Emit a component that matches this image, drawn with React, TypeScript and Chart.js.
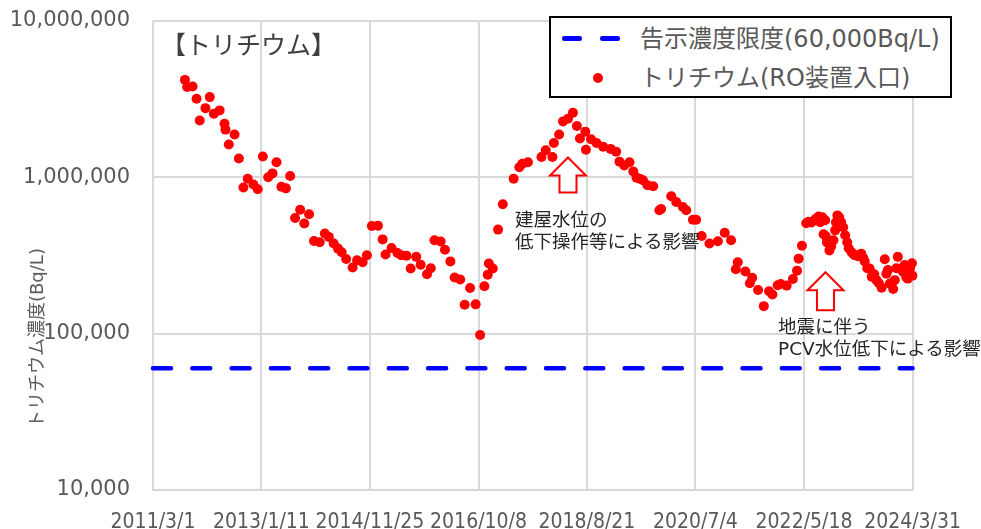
import React, { useEffect, useRef } from "react";
import { Chart, registerables } from "chart.js";

Chart.register(...registerables);

// ---- data ----
const xTickLabels = [
  "2011/3/1", "2013/1/11", "2014/11/25", "2016/10/8",
  "2018/8/21", "2020/7/4", "2022/5/18", "2024/3/31",
];
const yTickValues = [10000, 100000, 1000000, 10000000];

const limitValue = 60000;
const limitLabel = "告示濃度限度(60,000Bq/L)";
const seriesLabel = "トリチウム(RO装置入口)";
const chartTitle = "【トリチウム】";
const yAxisTitle = "トリチウム濃度(Bq/L)";

const sampleDates = [
  "2011/9/18", "2011/10/2", "2011/11/5", "2011/11/30", "2011/12/20", "2012/1/25", "2012/2/21", "2012/3/18",
  "2012/4/23", "2012/5/24", "2012/5/30", "2012/6/20", "2012/7/26", "2012/8/22", "2012/9/20", "2012/10/17",
  "2012/11/22", "2012/12/19", "2013/1/20", "2013/2/23", "2013/3/22", "2013/4/16", "2013/5/17", "2013/6/14",
  "2013/7/11", "2013/8/11", "2013/9/12", "2013/10/8", "2013/11/7", "2013/12/8", "2014/1/13", "2014/2/14",
  "2014/3/11", "2014/4/11", "2014/5/8", "2014/5/31", "2014/6/28", "2014/8/8", "2014/9/5", "2014/10/10",
  "2014/11/6", "2014/12/7", "2015/1/14", "2015/2/13", "2015/3/3", "2015/4/10", "2015/5/17", "2015/6/10",
  "2015/7/13", "2015/8/8", "2015/9/12", "2015/10/10", "2015/11/19", "2015/12/13", "2016/1/5", "2016/2/13",
  "2016/3/11", "2016/4/14", "2016/5/11", "2016/6/15", "2016/7/13", "2016/8/16", "2016/9/20", "2016/10/18",
  "2016/11/14", "2016/12/5", "2016/12/12", "2017/1/6", "2017/2/8", "2017/3/10", "2017/5/17", "2017/6/22",
  "2017/7/11", "2017/8/15", "2017/11/8", "2017/12/5", "2018/1/16", "2018/1/25", "2018/2/27", "2018/3/24",
  "2018/4/24", "2018/5/25", "2018/6/19", "2018/7/8", "2018/8/11", "2018/8/15", "2018/9/16", "2018/10/21",
  "2018/12/1", "2019/1/17", "2019/2/21", "2019/3/14", "2019/4/13", "2019/5/16", "2019/6/9", "2019/6/29",
  "2019/7/19", "2019/8/9", "2019/9/6", "2019/10/12", "2019/11/20", "2019/12/1", "2020/2/3", "2020/3/5",
  "2020/4/16", "2020/5/7", "2020/6/18", "2020/7/8", "2020/8/12", "2020/9/30", "2020/11/22", "2021/1/4",
  "2021/2/13", "2021/3/15", "2021/3/27", "2021/5/14", "2021/6/11", "2021/6/26", "2021/8/2", "2021/9/7",
  "2021/10/10", "2021/10/31", "2021/12/3", "2021/12/22", "2022/1/29", "2022/3/9", "2022/4/4", "2022/4/14",
  "2022/5/5", "2022/6/1", "2022/6/15", "2022/7/4", "2022/7/27", "2022/8/17", "2022/8/28", "2022/9/10",
  "2022/9/18", "2022/9/28", "2022/10/2", "2022/10/9", "2022/10/17", "2022/10/25", "2022/11/5", "2022/11/19",
  "2022/11/30", "2022/12/5", "2022/12/14", "2022/12/25", "2023/1/7", "2023/1/19", "2023/2/1", "2023/2/14",
  "2023/2/23", "2023/3/13", "2023/3/25", "2023/4/3", "2023/4/22", "2023/5/13", "2023/5/26", "2023/6/4",
  "2023/6/20", "2023/7/5", "2023/7/18", "2023/8/3", "2023/8/17", "2023/9/1", "2023/9/18", "2023/10/8",
  "2023/10/18", "2023/10/28", "2023/11/9", "2023/11/30", "2023/12/10", "2023/12/20", "2023/12/29", "2024/1/21",
  "2024/1/31", "2024/2/10", "2024/2/21", "2024/3/1", "2024/3/15", "2024/3/27", "2024/3/30",
];

const tritiumRO = [
  4200000, 3780000, 3810000, 3180000, 2310000, 2770000, 3260000, 2550000,
  2680000, 2200000, 2020000, 1620000, 1880000, 1320000, 860000, 980000,
  900000, 840000, 1360000, 1000000, 1060000, 1250000, 870000, 850000,
  1020000, 550000, 620000, 506000, 580000, 392000, 384000, 437000,
  416000, 377000, 350000, 332000, 300000, 265000, 295000, 286000,
  317000, 488000, 491000, 401000, 321000, 353000, 328000, 317000,
  315000, 261000, 310000, 276000, 240000, 262000, 396000, 389000,
  344000, 290000, 229000, 222000, 153000, 196000, 154000, 98000,
  201000, 238000, 281000, 261000, 463000, 672000, 981000, 1160000,
  1220000, 1250000, 1350000, 1490000, 1350000, 1660000, 1880000, 2280000,
  2370000, 2590000, 2130000, 1770000, 1960000, 1500000, 1750000, 1660000,
  1570000, 1520000, 1460000, 1260000, 1190000, 1250000, 1090000, 996000,
  981000, 957000, 889000, 876000, 616000, 628000, 756000, 695000,
  646000, 616000, 535000, 536000, 421000, 377000, 390000, 442000,
  396000, 258000, 286000, 250000, 210000, 228000, 190000, 150000,
  187000, 178000, 204000, 208000, 203000, 224000, 253000, 302000,
  365000, 508000, 520000, 514000, 539000, 561000, 516000, 555000,
  432000, 531000, 420000, 384000, 379000, 341000, 362000, 396000,
  458000, 516000, 571000, 555000, 516000, 479000, 426000, 384000,
  352000, 332000, 322000, 317000, 313000, 325000, 305000, 290000,
  262000, 261000, 231000, 240000, 220000, 210000, 197000, 299000,
  242000, 255000, 209000, 193000, 220000, 262000, 310000, 261000,
  249000, 275000, 229000, 225000, 262000, 282000, 235000,
];

// annotation arrows anchored in data space (date, tip value, tail value)
const arrowDates = ["2018/4/24", "2022/9/30"];
const arrowTipValues = [1340000, 247000];
const arrowTailValues = [800000, 141000];

function toTime(s: string): number {
  const [y, m, d] = s.split("/").map(Number);
  return Date.UTC(y, m - 1, d);
}

const GRID = "#D9D9D9";
const TEXT = "#595959";
const LATIN_CJK = '"DejaVu Sans", "Noto Sans CJK JP", sans-serif';

const arrowPlugin = {
  id: "arrowAnnotations",
  afterDatasetsDraw(chart: any) {
    const { ctx, scales } = chart;
    const xs = scales.x;
    const ys = scales.y;
    ctx.save();
    arrowDates.forEach((d, i) => {
      const x = xs.getPixelForValue(toTime(d));
      const yt = ys.getPixelForValue(arrowTipValues[i]);
      const yb = ys.getPixelForValue(arrowTailValues[i]);
      const hw = 18, hh = 18, sw = 8.5;
      ctx.beginPath();
      ctx.moveTo(x, yt);
      ctx.lineTo(x + hw, yt + hh);
      ctx.lineTo(x + sw, yt + hh);
      ctx.lineTo(x + sw, yb);
      ctx.lineTo(x - sw, yb);
      ctx.lineTo(x - sw, yt + hh);
      ctx.lineTo(x - hw, yt + hh);
      ctx.closePath();
      ctx.fillStyle = "#FFFFFF";
      ctx.fill();
      ctx.lineWidth = 2;
      ctx.strokeStyle = "#FF0000";
      ctx.lineJoin = "miter";
      ctx.stroke();
    });
    ctx.restore();
  },
};

export default function App() {
  const canvasRef = useRef<HTMLCanvasElement | null>(null);

  useEffect(() => {
    document.body.style.margin = "0";
    const canvas = canvasRef.current;
    if (!canvas) return;
    const xMin = toTime(xTickLabels[0]);
    const xMax = toTime(xTickLabels[xTickLabels.length - 1]);
    const chart = new Chart(canvas, {
      type: "scatter",
      data: {
        datasets: [
          {
            type: "line",
            label: limitLabel,
            data: [
              { x: xMin, y: limitValue },
              { x: xMax, y: limitValue },
            ],
            borderColor: "#0000FF",
            backgroundColor: "#0000FF",
            borderWidth: 4.5,
            borderDash: [18, 21.3],
            borderCapStyle: "round",
            pointRadius: 0,
            fill: false,
            clip: false,
            order: 2,
          } as any,
          {
            label: seriesLabel,
            data: sampleDates.map((d, i) => ({ x: toTime(d), y: tritiumRO[i] })),
            backgroundColor: "#FF0000",
            borderColor: "#FF0000",
            borderWidth: 0,
            pointRadius: 5,
            pointHoverRadius: 5,
            clip: false,
            order: 1,
          } as any,
        ],
      },
      options: {
        animation: false,
        responsive: false,
        events: [],
        layout: { padding: { left: 0, right: 63, top: 21, bottom: 0 } },
        plugins: { legend: { display: false }, tooltip: { enabled: false } },
        scales: {
          x: {
            type: "linear",
            min: xMin,
            max: xMax,
            afterBuildTicks: (s: any) => {
              s.ticks = xTickLabels.map((l) => ({ value: toTime(l) }));
            },
            afterFit: (s: any) => {
              s.height = 39;
            },
            ticks: {
              autoSkip: false,
              maxRotation: 0,
              padding: 20,
              color: TEXT,
              font: { family: '"DejaVu Sans Condensed", "DejaVu Sans", sans-serif', size: 21 },
              callback: (_v: any, i: number) => xTickLabels[i],
            },
            grid: { color: GRID, lineWidth: 2, drawTicks: false },
            border: { color: GRID, width: 2 },
          },
          y: {
            type: "logarithmic",
            min: 10000,
            max: 10000000,
            afterBuildTicks: (s: any) => {
              s.ticks = yTickValues.map((v) => ({ value: v }));
            },
            afterFit: (s: any) => {
              s.width = 153;
              s.paddingTop = 0;
              s.paddingBottom = 0;
            },
            ticks: {
              padding: 23,
              color: TEXT,
              font: { family: '"DejaVu Sans", sans-serif', size: 21 },
              callback: (v: any) => Number(v).toLocaleString("en-US"),
            },
            grid: { color: GRID, lineWidth: 2, drawTicks: false },
            border: { color: GRID, width: 2 },
          },
        },
      } as any,
      plugins: [arrowPlugin],
    });
    return () => chart.destroy();
  }, []);

  const abs = (style: React.CSSProperties): React.CSSProperties => ({ position: "absolute", ...style });
  const line = (top: number): React.CSSProperties => ({
    position: "absolute",
    top,
    transform: "translateY(-50%)",
    whiteSpace: "nowrap",
    lineHeight: 1,
  });

  return (
    <div style={{ position: "fixed", left: 0, top: 0, width: 981, height: 529, background: "#fff", overflow: "hidden" }}>
      <canvas ref={canvasRef} width={981} height={529} style={{ display: "block", width: 981, height: 529 }} />

      {/* title */}
      <div style={{ ...line(45), left: 161, fontSize: 25, color: "#404040", fontFamily: LATIN_CJK }}>{chartTitle}</div>

      {/* y axis title */}
      <div
        style={abs({
          left: 37,
          top: 338,
          transform: "translate(-50%, -50%) rotate(-90deg)",
          whiteSpace: "nowrap",
          fontSize: 18,
          lineHeight: 1,
          color: TEXT,
          fontFamily: LATIN_CJK,
        })}
      >
        {yAxisTitle}
      </div>

      {/* legend */}
      <div style={abs({ left: 549, top: 16, width: 403, height: 82, border: "2px solid #000", background: "#fff", boxSizing: "border-box" })} />
      <div style={abs({ left: 562, top: 36, width: 20, height: 4.5, borderRadius: 2.25, background: "#0000FF" })} />
      <div style={abs({ left: 600, top: 36, width: 20, height: 4.5, borderRadius: 2.25, background: "#0000FF" })} />
      <div style={{ ...line(39), left: 640, fontSize: 24, color: TEXT, fontFamily: LATIN_CJK }}>{limitLabel}</div>
      <div style={abs({ left: 593, top: 73, width: 10, height: 10, borderRadius: 5, background: "#FF0000" })} />
      <div style={{ ...line(78), left: 640, fontSize: 24, color: TEXT, fontFamily: LATIN_CJK }}>{seriesLabel}</div>

      {/* annotations */}
      <div style={{ ...line(220), left: 515, fontSize: 18.5, color: "#262626", fontFamily: LATIN_CJK }}>建屋水位の</div>
      <div style={{ ...line(242), left: 515, fontSize: 18.5, color: "#262626", fontFamily: LATIN_CJK }}>低下操作等による影響</div>
      <div style={{ ...line(327), left: 778, fontSize: 18.5, color: "#262626", fontFamily: LATIN_CJK }}>地震に伴う</div>
      <div style={{ ...line(349), left: 778, fontSize: 18.5, color: "#262626", fontFamily: LATIN_CJK }}>PCV水位低下による影響</div>
    </div>
  );
}
